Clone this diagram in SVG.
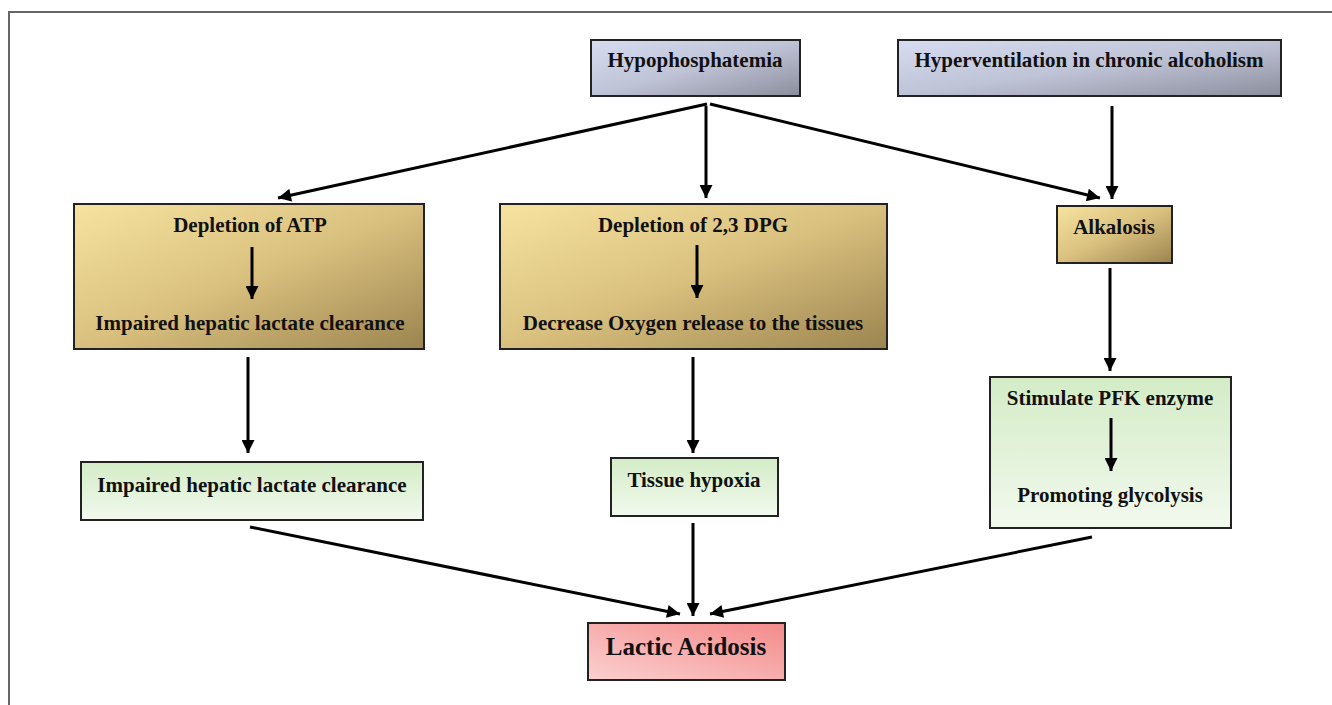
<svg xmlns="http://www.w3.org/2000/svg" width="1332" height="705" viewBox="0 0 1332 705">
<defs>
<linearGradient id="gBlue" x1="0" y1="0" x2="1" y2="1">
<stop offset="0" stop-color="#d8dcf2"/><stop offset="0.5" stop-color="#bfc3d6"/><stop offset="1" stop-color="#8a8e9c"/>
</linearGradient>
<linearGradient id="gGold" x1="0" y1="0" x2="1" y2="1">
<stop offset="0" stop-color="#f7e3a0"/><stop offset="0.5" stop-color="#d9c07e"/><stop offset="1" stop-color="#9c8450"/>
</linearGradient>
<linearGradient id="gGreen" x1="0" y1="0" x2="0" y2="1">
<stop offset="0" stop-color="#d3ecc6"/><stop offset="1" stop-color="#f2f9ee"/>
</linearGradient>
<linearGradient id="gPink" x1="1" y1="0" x2="0" y2="1">
<stop offset="0" stop-color="#f48a8a"/><stop offset="1" stop-color="#fbd0d0"/>
</linearGradient>
<marker id="ahb" viewBox="0 0 10 10" refX="10" refY="5" markerWidth="17" markerHeight="13" markerUnits="userSpaceOnUse" orient="auto">
<path d="M0,0 L10,5 L0,10 z" fill="#000"/>
</marker>
</defs>
<style>
.box{stroke:#222;stroke-width:2}
.t{font-family:"Liberation Serif","Times New Roman",serif;font-weight:bold;font-size:21px;fill:#111;text-anchor:middle}
.big{font-size:25px}
.c{stroke:#000;stroke-width:3;fill:none;marker-end:url(#ahb)}
</style>
<rect width="1332" height="705" fill="#fff"/>
<g id="frame"><path d="M9,705 V12 H1332" fill="none" stroke="#666" stroke-width="2"/></g>

<g id="connectors">
<line class="c" x1="707" y1="104" x2="278" y2="198"/>
<line class="c" x1="706" y1="106" x2="706" y2="198"/>
<line class="c" x1="710" y1="104" x2="1100" y2="198"/>
<line class="c" x1="1112" y1="106" x2="1112" y2="199"/>
<line class="c" x1="1110" y1="268" x2="1110" y2="371"/>
<line class="c" x1="248" y1="357" x2="248" y2="453"/>
<line class="c" x1="693" y1="357" x2="693" y2="453"/>
<line class="c" x1="250" y1="527" x2="680" y2="614"/>
<line class="c" x1="693" y1="523" x2="693" y2="616"/>
<line class="c" x1="1092" y1="537" x2="710" y2="614"/>
</g>

<g id="hypophosphatemia"><rect class="box" x="591" y="40" width="209" height="56" fill="url(#gBlue)"/><text class="t" x="695" y="67">Hypophosphatemia</text></g>
<g id="hyperventilation"><rect class="box" x="898" y="40" width="383" height="56" fill="url(#gBlue)"/><text class="t" x="1089" y="67">Hyperventilation in chronic alcoholism</text></g>

<g id="depletion-atp"><rect class="box" x="74" y="204" width="350" height="145" fill="url(#gGold)"/>
<text class="t" x="250" y="232">Depletion of ATP</text>
<line x1="252" y1="247" x2="252" y2="299" stroke="#000" stroke-width="3" marker-end="url(#ahb)"/>
<text class="t" x="250" y="330">Impaired hepatic lactate clearance</text></g>

<g id="depletion-dpg"><rect class="box" x="500" y="204" width="387" height="145" fill="url(#gGold)"/>
<text class="t" x="693" y="232">Depletion of 2,3 DPG</text>
<line x1="697" y1="245" x2="697" y2="298" stroke="#000" stroke-width="3" marker-end="url(#ahb)"/>
<text class="t" x="693" y="330">Decrease Oxygen release to the tissues</text></g>

<g id="alkalosis"><rect class="box" x="1057" y="206" width="115" height="57" fill="url(#gGold)"/><text class="t" x="1114" y="234">Alkalosis</text></g>

<g id="impaired-clearance"><rect class="box" x="81" y="462" width="342" height="58" fill="url(#gGreen)"/><text class="t" x="252" y="492">Impaired hepatic lactate clearance</text></g>

<g id="tissue-hypoxia"><rect class="box" x="611" y="458" width="167" height="58" fill="url(#gGreen)"/><text class="t" x="694" y="487">Tissue hypoxia</text></g>

<g id="stimulate-pfk"><rect class="box" x="990" y="377" width="241" height="151" fill="url(#gGreen)"/>
<text class="t" x="1110" y="405">Stimulate PFK enzyme</text>
<line x1="1111" y1="418" x2="1111" y2="471" stroke="#000" stroke-width="3" marker-end="url(#ahb)"/>
<text class="t" x="1110" y="502">Promoting glycolysis</text></g>

<g id="lactic-acidosis"><rect class="box" x="588" y="623" width="197" height="57" fill="url(#gPink)"/><text class="t big" x="686" y="655">Lactic Acidosis</text></g>
</svg>
